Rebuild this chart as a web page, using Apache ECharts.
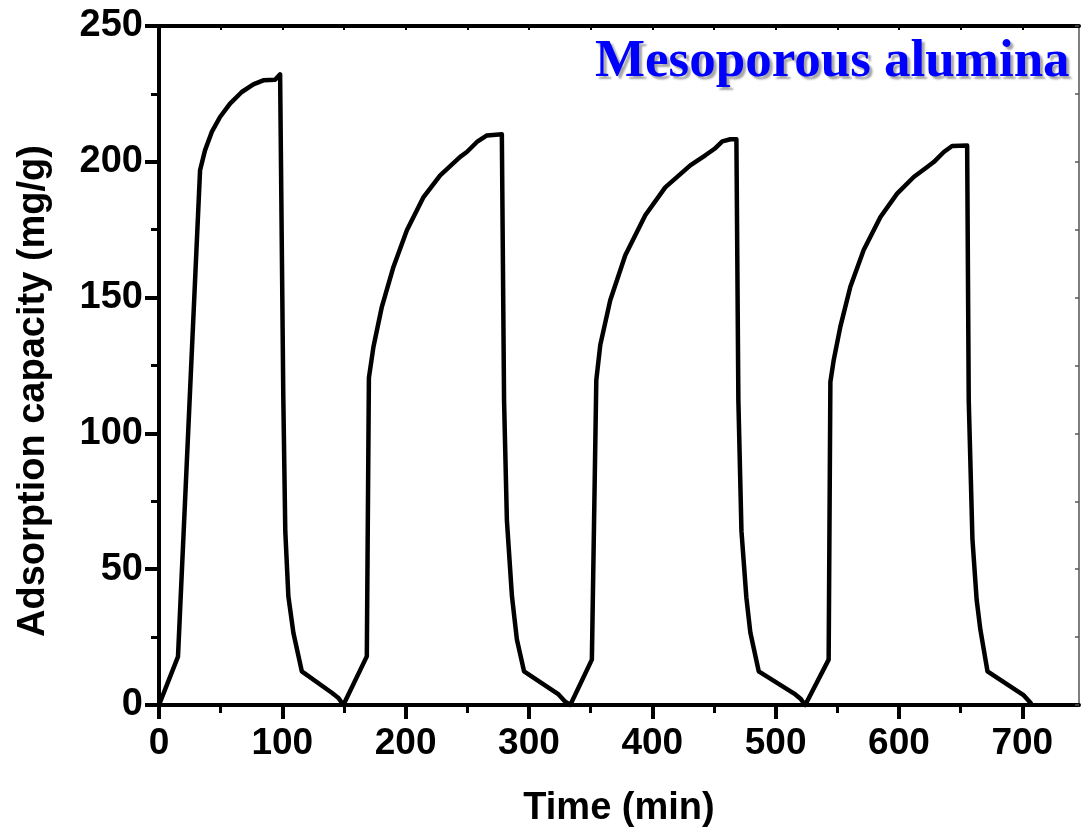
<!DOCTYPE html>
<html>
<head>
<meta charset="utf-8">
<title>Adsorption cycles — mesoporous alumina</title>
<script src="https://cdn.jsdelivr.net/npm/echarts@6/dist/echarts.min.js"></script>
<style>
  html, body { margin: 0; padding: 0; background: #fff; }
  #chart { width: 1081px; height: 833px; }
</style>
</head>
<body>
<div id="chart"></div>
<script>
// Adsorption / desorption cycles (time in min, capacity in mg/g)
const cycle1Time = [0, 15.4, 33.3, 37.3, 42.8, 49.5, 57.6, 67.1, 76.5, 84.6, 94.1, 98.2, 100.8, 102.4, 104.9, 109.0, 115.8, 140.1, 145.5];
const cycle1Cap  = [0, 17.8, 196.9, 204.2, 211.0, 216.5, 221.4, 225.7, 228.5, 230.0, 230.2, 232.2, 113, 64, 40, 26.5, 12.4, 4.5, 2.6];

const cycle2Time = [149.5, 168.5, 170.2, 173.9, 180.7, 190.1, 201.0, 214.5, 228.0, 244.2, 249.6, 257.8, 265.9, 278.0, 279.8, 282.1, 286.2, 290.2, 296.0, 324.0, 329.4];
const cycle2Cap  = [0, 17.9, 120.5, 131.9, 146.6, 161.3, 174.8, 187.0, 195.0, 201.8, 203.6, 207.3, 209.7, 210.1, 112, 68, 40, 24.1, 12.4, 3.9, 1.2];

const cycle3Time = [333.5, 351.0, 354.6, 357.8, 365.9, 378.1, 394.3, 410.5, 430.8, 443.0, 451.1, 456.8, 463.3, 468.2, 469.8, 472.3, 476.3, 479.5, 486.3, 516.0, 520.0];
const cycle3Cap  = [0, 16.7, 119.7, 132.5, 149.0, 165.6, 180.3, 190.6, 198.7, 202.4, 205.0, 207.5, 208.3, 208.3, 112, 64, 39.5, 26.7, 12.4, 3.9, 2.4];

const cycle4Time = [524.0, 543.0, 544.4, 547.1, 552.5, 560.6, 571.4, 585.0, 598.5, 612.0, 622.9, 628.2, 636.4, 643.1, 655.3, 656.6, 659.6, 663.0, 666.0, 671.8, 701.3, 707.0];
const cycle4Cap  = [0, 16.7, 119.0, 127.0, 139.3, 154.0, 167.5, 179.7, 188.3, 194.4, 198.1, 199.9, 203.6, 205.8, 206.0, 112, 61, 38.8, 27.8, 12.4, 3.5, 0.6];

// Axis tick positions
const xMajorTicks = [0, 100, 200, 300, 400, 500, 600, 700];
const xMinorTicks = [50, 150, 250, 350, 450, 550, 650];
const xTopTicks   = [0, 50, 100, 150, 200, 250, 300, 350, 400, 450, 500, 550, 600, 650, 700];

const xTitle = 'Time (min)';
const yTitle = 'Adsorption capacity (mg/g)';
const sampleName = 'Mesoporous alumina';

// one continuous trace through all cycles
const times = [].concat(cycle1Time, cycle2Time, cycle3Time, cycle4Time);
const caps  = [].concat(cycle1Cap, cycle2Cap, cycle3Cap, cycle4Cap);
const points = times.map((t, i) => [t, caps[i]]);

const SANS = '"Liberation Sans", Arial, sans-serif';
const SERIF = '"Liberation Serif", "Times New Roman", serif';

const chart = echarts.init(document.getElementById('chart'), null, { renderer: 'canvas' });

chart.setOption({
  backgroundColor: '#ffffff',
  animation: false,
  title: {
    text: sampleName,
    left: 595,
    top: 36,
    padding: 0,
    textStyle: {
      fontFamily: SERIF,
      fontSize: 53,
      fontWeight: 'bold',
      color: '#0000ff',
      textShadowColor: 'rgba(0,0,0,0.35)',
      textShadowOffsetX: 3,
      textShadowOffsetY: 3,
      textShadowBlur: 2
    }
  },
  grid: { left: 159, right: 2, top: 26, bottom: 127, containLabel: false },
  xAxis: [
    {
      type: 'value', position: 'bottom', min: 0, max: 746,
      splitLine: { show: false },
      axisLine: { onZero: false, lineStyle: { color: '#000', width: 4 } },
      axisTick: { show: true, inside: false, length: 14, customValues: xMajorTicks, lineStyle: { color: '#000', width: 4 } },
      axisLabel: { show: true, customValues: xMajorTicks, margin: 20, color: '#000', fontFamily: SANS, fontSize: 37, fontWeight: 'bold' },
      name: xTitle, nameLocation: 'middle', nameGap: 85,
      nameTextStyle: { color: '#000', fontFamily: SANS, fontSize: 38, fontWeight: 'bold' }
    },
    {
      type: 'value', position: 'top', min: 0, max: 746,
      splitLine: { show: false },
      axisLine: { onZero: false, lineStyle: { color: '#000', width: 4 } },
      axisTick: { show: true, inside: true, length: 4, customValues: xTopTicks, lineStyle: { color: '#000', width: 2 } },
      axisLabel: { show: false }
    },
    {
      type: 'value', position: 'bottom', min: 0, max: 746,
      splitLine: { show: false },
      axisLine: { show: false, onZero: false },
      axisTick: { show: true, inside: false, length: 8, customValues: xMinorTicks, lineStyle: { color: '#000', width: 3 } },
      axisLabel: { show: false }
    }
  ],
  yAxis: [
    {
      type: 'value', position: 'left', min: 0, max: 250, interval: 50,
      splitLine: { show: false },
      axisLine: { onZero: false, lineStyle: { color: '#000', width: 4 } },
      axisTick: { show: true, inside: false, length: 14, lineStyle: { color: '#000', width: 4 } },
      minorTick: { show: true, splitNumber: 2, length: 8, lineStyle: { color: '#000', width: 3 } },
      minorSplitLine: { show: false },
      axisLabel: { margin: 16, color: '#000', fontFamily: SANS, fontSize: 38, fontWeight: 'bold' }
    },
    {
      type: 'value', position: 'right', min: 0, max: 250, interval: 25,
      splitLine: { show: false },
      axisLine: { onZero: false, lineStyle: { color: '#555', width: 1.5 } },
      axisTick: { show: true, inside: true, length: 4, lineStyle: { color: '#555', width: 1.5 } },
      axisLabel: { show: false }
    }
  ],
  graphic: [
    {
      type: 'text',
      x: 34, y: 391,
      rotation: Math.PI / 2,
      style: {
        text: yTitle,
        font: 'bold 38px ' + SANS,
        fill: '#000',
        align: 'center',
        verticalAlign: 'middle'
      }
    }
  ],
  series: [
    {
      type: 'line',
      xAxisIndex: 0,
      yAxisIndex: 0,
      data: points,
      showSymbol: false,
      symbol: 'none',
      smooth: false,
      clip: false,
      lineStyle: { color: '#000', width: 4.5, cap: 'round', join: 'round' },
      z: 3
    }
  ]
});
</script>
</body>
</html>
